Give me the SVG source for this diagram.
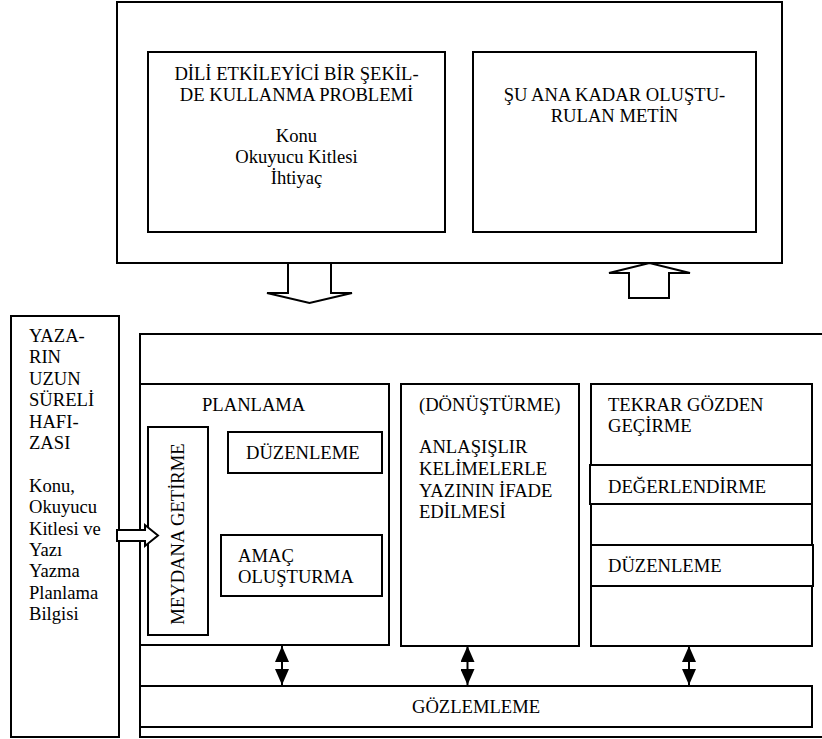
<svg xmlns="http://www.w3.org/2000/svg" width="822" height="739" viewBox="0 0 822 739">
<style>
  .box { fill: #fff; stroke: #000; stroke-width: 2; }
  .t { font-family: "Liberation Serif", "Times New Roman", serif; font-size: 18.6px; fill: #000; }
  .c { text-anchor: middle; }
  .blk { fill: #fff; stroke: #000; stroke-width: 2; stroke-linejoin: miter; }
  .dbl { stroke: #000; stroke-width: 2; fill: none; marker-start: url(#ah); marker-end: url(#ah); }
</style>
<defs>
  <marker id="ah" viewBox="0 0 16 14" refX="16" refY="7" markerWidth="16" markerHeight="14" markerUnits="userSpaceOnUse" orient="auto-start-reverse">
    <path d="M0,0 L16,7 L0,14 z" fill="#000"/>
  </marker>
</defs>
<rect width="822" height="739" fill="#fff"/>

<g id="context">
  <rect class="box" x="117" y="2" width="665" height="261"/>
</g>
<g id="problem">
  <rect class="box" x="148" y="52" width="297" height="180"/>
  <text class="t c" x="296.5" y="80">DİLİ ETKİLEYİCİ BİR ŞEKİL-</text>
  <text class="t c" x="296.5" y="101">DE KULLANMA PROBLEMİ</text>
  <text class="t c" x="296.5" y="142">Konu</text>
  <text class="t c" x="296.5" y="163">Okuyucu Kitlesi</text>
  <text class="t c" x="296.5" y="184">İhtiyaç</text>
</g>
<g id="metin">
  <rect class="box" x="473" y="52" width="283" height="180"/>
  <text class="t c" x="614.5" y="101">ŞU ANA KADAR OLUŞTU-</text>
  <text class="t c" x="614.5" y="122">RULAN METİN</text>
</g>

<g id="process">
  <rect class="box" x="140" y="334" width="700" height="403"/>
</g>
<g id="hafiza">
  <rect class="box" x="11" y="316" width="108" height="421"/>
  <text class="t" x="29" y="342">YAZA-</text>
  <text class="t" x="29" y="363.4">RIN</text>
  <text class="t" x="29" y="384.8">UZUN</text>
  <text class="t" x="29" y="406.2">SÜRELİ</text>
  <text class="t" x="29" y="427.6">HAFI-</text>
  <text class="t" x="29" y="449">ZASI</text>
  <text class="t" x="29" y="491.8">Konu,</text>
  <text class="t" x="29" y="513.2">Okuyucu</text>
  <text class="t" x="29" y="534.6">Kitlesi ve</text>
  <text class="t" x="29" y="556">Yazı</text>
  <text class="t" x="29" y="577.4">Yazma</text>
  <text class="t" x="29" y="598.8">Planlama</text>
  <text class="t" x="29" y="620.2">Bilgisi</text>
</g>
<g id="planlama">
  <rect class="box" x="140" y="384" width="249" height="261"/>
  <text class="t" x="202" y="411">PLANLAMA</text>
</g>
<g id="meydana">
  <rect class="box" x="148" y="427" width="60" height="208"/>
  <text class="t c" transform="translate(184,534) rotate(-90)">MEYDANA GETİRME</text>
</g>
<g id="duzenleme1">
  <rect class="box" x="228" y="432" width="154" height="41"/>
  <text class="t" x="246" y="459">DÜZENLEME</text>
</g>
<g id="amac">
  <rect class="box" x="221" y="535" width="161" height="61"/>
  <text class="t" x="238" y="562">AMAÇ</text>
  <text class="t" x="238" y="583">OLUŞTURMA</text>
</g>
<g id="donusturme">
  <rect class="box" x="401" y="384" width="178" height="262"/>
  <text class="t" x="419" y="411">(DÖNÜŞTÜRME)</text>
  <text class="t" x="419" y="453">ANLAŞIŞLIR</text>
  <text class="t" x="419" y="475">KELİMELERLE</text>
  <text class="t" x="419" y="497">YAZININ İFADE</text>
  <text class="t" x="419" y="518">EDİLMESİ</text>
</g>
<g id="tekrar">
  <rect class="box" x="591" y="384" width="221" height="262"/>
  <text class="t" x="608" y="411">TEKRAR GÖZDEN</text>
  <text class="t" x="608" y="432">GEÇİRME</text>
</g>
<g id="degerlendirme">
  <rect class="box" x="590" y="465" width="222" height="39"/>
  <text class="t" x="608" y="493">DEĞERLENDİRME</text>
</g>
<g id="duzenleme2">
  <rect class="box" x="591" y="545" width="222" height="41"/>
  <text class="t" x="608" y="572">DÜZENLEME</text>
</g>
<g id="gozlemleme">
  <rect class="box" x="140" y="686" width="672" height="41"/>
  <text class="t c" x="476" y="713">GÖZLEMLEME</text>
</g>

<g id="connectors">
  <polygon class="blk" points="288,263 331,263 331,293 352,293 309.5,303 267,293 288,293"/>
  <polygon class="blk" points="629,298 669,298 669,273 690,273 649.5,263 609,273 629,273"/>
  <polygon class="blk" points="117,530 145,530 145,525 158,535.5 145,546 145,541 117,541"/>
  <line class="dbl" x1="282" y1="646" x2="282" y2="685"/>
  <line class="dbl" x1="467.5" y1="646" x2="467.5" y2="685"/>
  <line class="dbl" x1="689" y1="646" x2="689" y2="685"/>
</g>
</svg>
